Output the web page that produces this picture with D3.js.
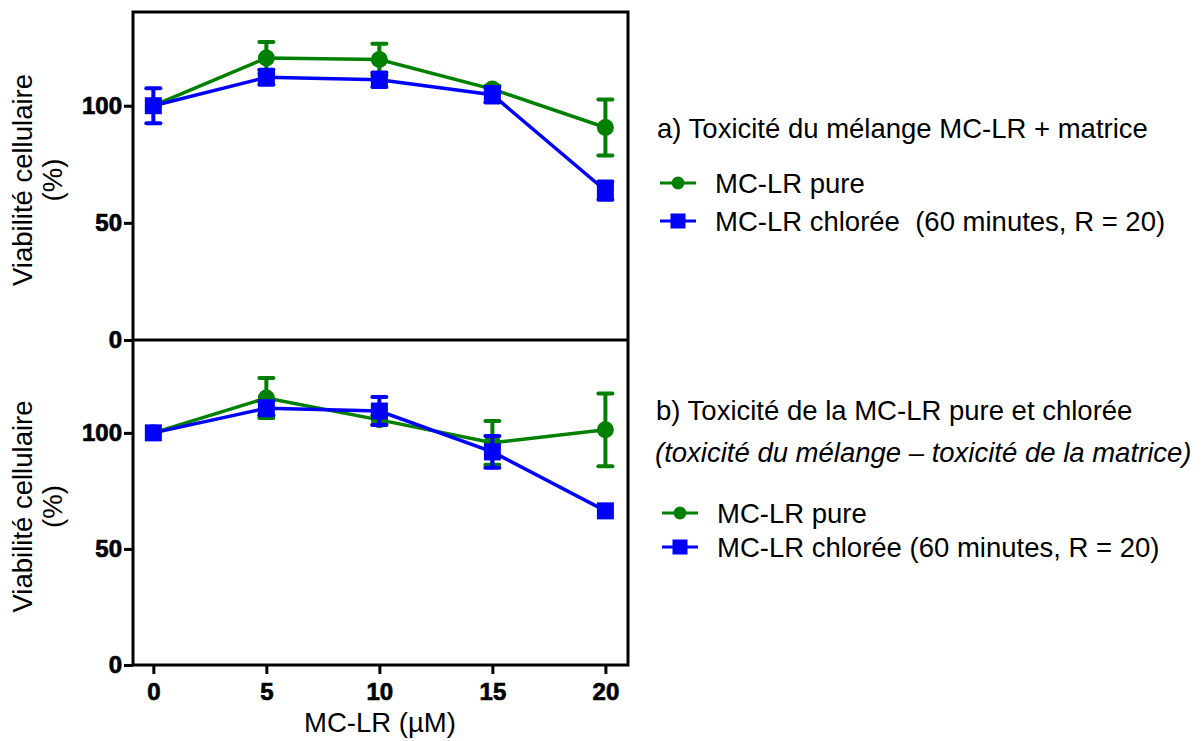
<!DOCTYPE html>
<html>
<head>
<meta charset="utf-8">
<script src="https://cdn.jsdelivr.net/npm/d3@7"></script>
<style>
  body { margin: 0; background: #fff; }
  text { font-family: "Liberation Sans", Arial, sans-serif; white-space: pre; }
  .tick text { font-weight: bold; font-size: 24px; fill: #000; stroke: #000; stroke-width: 0.7px; }
</style>
</head>
<body>
<svg id="chart" width="1202" height="741"></svg>
<script>
// MC-LR concentrations (µM)
var doses = [0, 5, 10, 15, 20];
var yTicks = [0, 50, 100];

// a) mixture MC-LR + matrix
var pureA = [100, 120.4, 119.7, 107.1, 90.7];
var pureAErr = [1, 6.8, 6.7, 1.4, 11.9];
var chloreeA = [100, 112.1, 111.1, 104.7, 63.8];
var chloreeAErr = [7.5, 3.2, 3.1, 3.3, 3.9];

// b) mixture minus matrix
var pureB = [100, 115, 105.6, 95.7, 101.3];
var pureBErr = [1, 8.6, 2, 9.4, 15.7];
var chloreeB = [100, 110.6, 109.4, 91.8, 66.4];
var chloreeBErr = [1, 3, 6, 6.8, 0];

var GREEN = "#008000", BLUE = "#0000ff";
var FS = "27.5px";

var svg = d3.select("#chart");
var left = 133, right = 628;
var xx = d3.scaleLinear().domain([-0.9, 21]).range([left, right]);

var panels = [
  { y0: 12, y1: 340, pure: pureA, pureErr: pureAErr, chl: chloreeA, chlErr: chloreeAErr },
  { y0: 340, y1: 665, pure: pureB, pureErr: pureBErr, chl: chloreeB, chlErr: chloreeBErr }
];

panels.forEach(function(p) {
  var yy = d3.scaleLinear().domain([0, 140]).range([p.y1, p.y0]);
  var g = svg.append("g");

  // y axis
  var ax = g.append("g").attr("transform", "translate(" + left + ",0)")
    .call(d3.axisLeft(yy).tickValues(yTicks).tickSize(9).tickPadding(2));
  ax.select(".domain").remove();
  ax.selectAll(".tick line").attr("stroke", "#000").attr("stroke-width", 3);

  // y label
  var cy = (p.y0 + p.y1) / 2 + 4;
  var lab = g.append("text").attr("transform", "translate(32," + cy + ")rotate(-90)")
    .attr("text-anchor", "middle").style("font-size", FS);
  lab.append("tspan").attr("x", 0).attr("dy", 0).text("Viabilité cellulaire");
  lab.append("tspan").attr("x", 0).attr("dy", 30).text("(%)");

  var line = d3.line().x(function(d, i) { return xx(doses[i]); }).y(function(d) { return yy(d); });

  [[p.pure, p.pureErr, GREEN, "circle"], [p.chl, p.chlErr, BLUE, "square"]].forEach(function(s) {
    var vals = s[0], errs = s[1], col = s[2];
    var sg = g.append("g");
    sg.append("path").datum(vals).attr("d", line).attr("fill", "none")
      .attr("stroke", col).attr("stroke-width", 3.5);
    vals.forEach(function(v, i) {
      var e = errs[i];
      if (e < 1.2) return;
      var cx = xx(doses[i]);
      sg.append("line").attr("x1", cx).attr("x2", cx).attr("y1", yy(v - e)).attr("y2", yy(v + e))
        .attr("stroke", col).attr("stroke-width", 4);
      [v - e, v + e].forEach(function(w) {
        sg.append("line").attr("x1", cx - 7).attr("x2", cx + 7).attr("y1", yy(w)).attr("y2", yy(w))
          .attr("stroke", col).attr("stroke-width", 4).attr("stroke-linecap", "round");
      });
    });
    sg.selectAll(".mk").data(vals).enter().append(s[3] === "circle" ? "circle" : "rect")
      .each(function(d, i) {
        var el = d3.select(this);
        if (s[3] === "circle") {
          el.attr("cx", xx(doses[i])).attr("cy", yy(d)).attr("r", 8.5);
        } else {
          el.attr("x", xx(doses[i]) - 8.5).attr("y", yy(d) - 8.5).attr("width", 17).attr("height", 17);
        }
      })
      .attr("fill", col);
  });
});

// frame
svg.append("rect").attr("x", left).attr("y", 12).attr("width", right - left).attr("height", 665 - 12)
  .attr("fill", "none").attr("stroke", "#000").attr("stroke-width", 3);
svg.append("line").attr("x1", left).attr("x2", right).attr("y1", 340).attr("y2", 340)
  .attr("stroke", "#000").attr("stroke-width", 3);

// x axis
var xa = svg.append("g").attr("transform", "translate(0,665)")
  .call(d3.axisBottom(xx).tickValues(doses).tickSize(9).tickPadding(9));
xa.select(".domain").remove();
xa.selectAll(".tick line").attr("stroke", "#000").attr("stroke-width", 3);
svg.append("text").attr("x", 380).attr("y", 732).attr("text-anchor", "middle")
  .style("font-size", FS).text("MC-LR (µM)");

// legends
function legend(x, y, txt, col, shape) {
  var lg = svg.append("g");
  lg.append("line").attr("x1", x).attr("x2", x + 36).attr("y1", y).attr("y2", y)
    .attr("stroke", col).attr("stroke-width", 3);
  if (shape === "circle") {
    lg.append("circle").attr("cx", x + 18).attr("cy", y).attr("r", 6.5).attr("fill", col);
  } else {
    lg.append("rect").attr("x", x + 10.5).attr("y", y - 7.5).attr("width", 15).attr("height", 15).attr("fill", col);
  }
  lg.append("text").attr("x", x + 55).attr("y", y + 10).style("font-size", FS).text(txt);
}

svg.append("text").attr("x", 657).attr("y", 138).style("font-size", FS)
  .text("a) Toxicité du mélange MC-LR + matrice");
legend(660, 183, "MC-LR pure", GREEN, "circle");
legend(660, 221, "MC-LR chlorée  (60 minutes, R = 20)", BLUE, "square");

svg.append("text").attr("x", 656).attr("y", 420).style("font-size", FS)
  .text("b) Toxicité de la MC-LR pure et chlorée");
svg.append("text").attr("x", 655).attr("y", 462).style("font-size", FS).style("font-style", "italic")
  .text("(toxicité du mélange – toxicité de la matrice)");
legend(662, 513, "MC-LR pure", GREEN, "circle");
legend(662, 547, "MC-LR chlorée (60 minutes, R = 20)", BLUE, "square");
</script>
</body>
</html>
